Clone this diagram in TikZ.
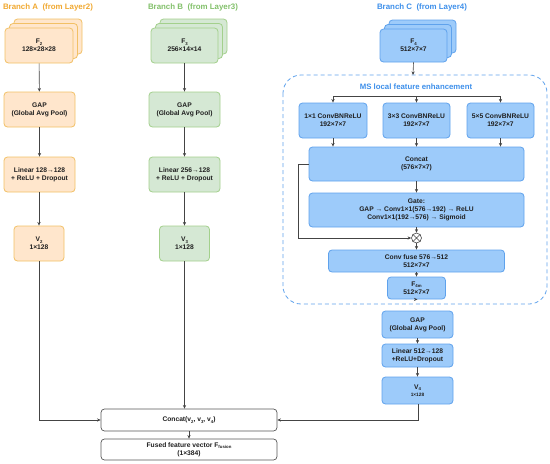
\documentclass[tikz,border=0pt]{standalone}
\usepackage{fontspec}
\setmainfont{Liberation Sans}
\usetikzlibrary{arrows.meta}
\definecolor{orF}{HTML}{FFE6CC}
\definecolor{orD}{HTML}{F2C065}
\definecolor{orT}{HTML}{F0A830}
\definecolor{grF}{HTML}{D5E8D4}
\definecolor{grD}{HTML}{A3D08C}
\definecolor{grT}{HTML}{82C06A}
\definecolor{blF}{HTML}{9DCBFA}
\definecolor{blD}{HTML}{5FA2EC}
\definecolor{blT}{HTML}{3D8FEA}
\definecolor{ln}{HTML}{444444}
\newcommand{\mysub}[1]{\raisebox{-0.45ex}{\fontsize{4.3}{4.3}\selectfont #1}}
\tikzset{
  base/.style={rectangle, rounded corners=3.5pt, line width=0.8pt, inner sep=0pt, align=center,
    font=\fontsize{6.7}{8.2}\selectfont\bfseries, text=black!88},
  boxA/.style={base, draw=orD, fill=orF},
  boxB/.style={base, draw=grD, fill=grF},
  boxC/.style={base, draw=blD, fill=blF},
  boxW/.style={base, draw=ln!90, fill=white, line width=0.7pt},
  backA/.style={draw=orD, fill=orF, line width=0.8pt, rounded corners=3.5pt},
  backB/.style={draw=grD, fill=grF, line width=0.8pt, rounded corners=3.5pt},
  backC/.style={draw=blD, fill=blF, line width=0.8pt, rounded corners=3.5pt},
  arr/.style={draw=ln, line width=0.6pt, -{Stealth[length=3.6pt,width=3.2pt]}},
  lin/.style={draw=ln, line width=0.6pt},
  ttl/.style={font=\fontsize{7.9}{9}\selectfont\bfseries, inner sep=0pt}
}
\begin{document}
\begin{tikzpicture}[x=1pt,y=-1pt]
\useasboundingbox (0,0) rectangle (550,464);
% titles
\node[ttl, text=orT] (tA) at (48,7) {Branch A\ \ (from Layer2)};
\node[ttl, text=grT] (tB) at (193,7) {Branch B\ \ (from Layer3)};
\node[ttl, text=blT] (tC) at (422,7) {Branch C\ \ (from Layer4)};

% ---------- Branch A ----------
\draw[backA] (14,19) rectangle (82,54);
\draw[backA] (9.5,23.5) rectangle (77.5,58.5);
\node[boxA, minimum width=68pt, minimum height=35pt] (F2) at (39,45.5) {F\mysub{2}\\128×28×28};
\node[boxA, minimum width=71pt, minimum height=35pt] (gapA) at (39.5,109.5) {GAP\\(Global Avg Pool)};
\node[boxA, minimum width=71pt, minimum height=35pt] (linA) at (39.5,174.5) {Linear 128→128\\+ ReLU + Dropout};
\node[boxA, minimum width=50pt, minimum height=35pt] (V2) at (39,243.5) {V\mysub{2}\\1×128};

% ---------- Branch B ----------
\draw[backB] (160,19) rectangle (227,54);
\draw[backB] (155.5,23.5) rectangle (222.5,58.5);
\node[boxB, minimum width=67pt, minimum height=35pt] (F3) at (184.5,45.5) {F\mysub{3}\\256×14×14};
\node[boxB, minimum width=71pt, minimum height=35pt] (gapB) at (184.5,109.5) {GAP\\(Global Avg Pool)};
\node[boxB, minimum width=71pt, minimum height=35pt] (linB) at (184.5,174.5) {Linear 256→128\\+ ReLU + Dropout};
\node[boxB, minimum width=50pt, minimum height=35pt] (V3) at (184.5,243.5) {V\mysub{3}\\1×128};

% ---------- Branch C ----------
\draw[backC] (389,20) rectangle (456,53);
\draw[backC] (384.5,24.5) rectangle (451.5,57.5);
\node[boxC, minimum width=67pt, minimum height=33pt] (F4) at (413.5,45.5) {F\mysub{4}\\512×7×7};

\draw[blD, line width=0.8pt, dash pattern=on 4pt off 3pt, rounded corners=18pt] (283,75) rectangle (547,304);
\coordinate (msTop) at (413,75);
\node[font=\fontsize{7.8}{9}\selectfont\bfseries, text=blT, inner sep=0pt] (msT) at (416,87) {MS local feature enhancement};

\node[boxC, minimum width=68pt, minimum height=35pt] (c1) at (333,120.5) {1×1 ConvBNReLU\\192×7×7};
\node[boxC, minimum width=67pt, minimum height=35pt] (c3) at (416.5,120.5) {3×3 ConvBNReLU\\192×7×7};
\node[boxC, minimum width=67pt, minimum height=35pt] (c5) at (500.5,120.5) {5×5 ConvBNReLU\\192×7×7};
\coordinate (br1) at (333,96);
\coordinate (br3) at (416.5,96);
\coordinate (br5) at (500.5,96);

\node[boxC, minimum width=215pt, minimum height=34pt] (cat) at (416.5,164) {Concat\\(576×7×7)};
\node[boxC, minimum width=215pt, minimum height=34pt] (gate) at (416.5,210) {Gate:\\GAP → Conv1×1(576→192) → ReLU\\Conv1×1(192→576) → Sigmoid};
\node[circle, draw=ln, fill=white, line width=0.6pt, minimum size=10pt, inner sep=0pt] (mul) at (416.5,238) {};
\draw[ln, line width=0.6pt] (mul.north west) -- (mul.south east) (mul.north east) -- (mul.south west);
\coordinate (sk1) at (298,164);
\coordinate (sk2) at (298,238);
\node[boxC, minimum width=176pt, minimum height=22pt] (fuse) at (416.5,261) {Conv fuse 576→512\\512×7×7};
\node[boxC, minimum width=58pt, minimum height=22pt] (F4m) at (416.5,288) {F\mysub{4m}\\512×7×7};
\node[boxC, minimum width=71pt, minimum height=27pt] (gapC) at (417.5,324.5) {GAP\\(Global Avg Pool)};
\node[boxC, minimum width=71pt, minimum height=23pt] (linC) at (417.5,355.5) {Linear 512→128\\+ReLU+Dropout};
\node[boxC, minimum width=71pt, minimum height=27pt] (V4) at (417.5,390.5) {V\mysub{4}\\[-1pt]{\fontsize{4.8}{5}\selectfont 1×128}};

% ---------- fusion ----------
\node[boxW, minimum width=176pt, minimum height=22pt] (concat) at (189,420) {Concat(v\mysub{2}, v\mysub{3}, v\mysub{4})};
\node[boxW, minimum width=176pt, minimum height=21pt] (fused) at (189,449.5) {Fused feature vector F\mysub{fusion}\\(1×384)};
\coordinate (jA) at (39,420);
\coordinate (jC) at (418,420);

% ---------- connectors ----------
\draw[arr] (F2) -- (gapA);
\draw[arr] (gapA) -- (linA);
\draw[arr] (linA.south -| V2.north) -- (V2);
\draw[arr] (F3) -- (gapB);
\draw[arr] (gapB) -- (linB);
\draw[arr] (linB) -- (V3);
\draw[arr] (F4.south) -- (msTop);
\draw[lin] (br1) -- (br5);
\draw[arr] (br1) -- (c1);
\draw[arr] (br3) -- (c3);
\draw[arr] (br5) -- (c5);
\draw[arr] (c1.south) -- (c1.south |- cat.north);
\draw[arr] (c3.south) -- (c3.south |- cat.north);
\draw[arr] (c5.south) -- (c5.south |- cat.north);
\draw[arr] (cat) -- (gate);
\draw[arr] (gate) -- (mul);
\draw[arr] (cat.west |- sk1) -- (sk1) -- (sk2) -- (mul);
\draw[arr] (mul) -- (fuse);
\draw[arr] (fuse) -- (F4m);
\draw[arr] (F4m.south) -- (F4m.south -| gapC.north) ;
\draw[arr] (gapC) -- (linC);
\draw[arr] (linC) -- (V4);
\draw[arr] (V2.south) -- (jA) -- (concat.west);
\draw[arr] (V3.south) -- (V3.south |- concat.north);
\draw[arr] (V4.south -| jC) -- (jC) -- (concat.east);
\draw[arr] (concat) -- (fused);
\end{tikzpicture}
\end{document}
